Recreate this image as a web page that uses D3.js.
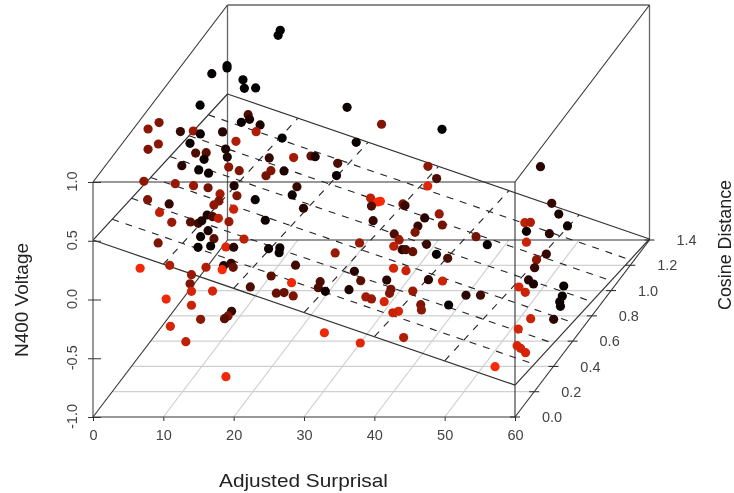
<!DOCTYPE html>
<html><head><meta charset="utf-8">
<script src="https://cdn.jsdelivr.net/npm/d3@7"></script>
<style>html,body{margin:0;padding:0;background:#fff}svg{display:block;filter:blur(0.45px)}text{font-family:"Liberation Sans",Arial,sans-serif}</style>
</head><body><svg id="c" width="734" height="493"></svg>
<script>
const surprisal = [
7.5,7.2,1.3,1.3,0.5,2.2,2.4,4.0,0.2,17.0,
1.2,1.0,1.5,0.6,1.6,3.4,4.3,4.5,4.7,6.0,
6.8,10.5,18.3,1.1,1.0,1.5,5.3,5.2,2.3,3.8,
6.8,3.5,11.4,13.5,14.6,15.2,18.4,1.7,7.0,8.5,
4.1,5.5,13.0,13.5,12.3,19.6,0.4,3.5,6.1,6.8,
10.5,16.7,8.5,10.9,17.4,13.5,2.3,4.0,9.7,9.0,
11.8,4.0,19.0,25.8,26.8,27.2,
27.3,28.9,9.4,10.2,11.0,12.5,16.3,7.1,8.4,9.5,10.0,10.9,13.1,11.2,7.9,12.2,14.0,16.0,14.8,15.9,19.5,21.1,29.7,
21.0,27.6,10.9,6.7,14.7,17.2,16.9,17.2,17.0,24.7,14.0,22.6,31.7,32.6,13.8,25.5,28.2,21.0,29.3,30.3,32.3,14.0,17.0,24.7,25.8,27.1,34.7,35.5,10.4,14.0,19.7,19.2,18.7,15.3,11.0,32.9,13.2,38.0,18.9,
21.9,30.5,44.5,28.5,31.1,31.2,46.1,47.1,49.7,30.4,30.7,34.2,33.5,33.9,36.0,33.5,45.0,45.8,46.6,48.5,31.9,32.6,40.8,36.5,42.4,46.6,33.2,34.4,34.9,35.9,37.9,39.5,50.8,49.4,50.5,35.9,36.3,36.3,39.5,41.5,51.0,51.7,51.0,51.9,56.0,55.8,56.8,56.9,36.9,36.7,40.0,46.2,46.9,37.3,42.5,42.6,45.1,40.7,39.9,55.4,57.3,55.0,42.8,56.2,56.7,57.4,55.8];
const cosine = [
1.4,1.4,1.3,1.3,1.2,1.4,1.4,1.4,1.1,1.4,
.6,.5,.8,1.0,1.0,1.1,1.3,1.3,1.2,1.3,
1.2,1.2,1.4,.6,.5,.9,1.1,1.0,.9,.9,
.9,.9,1.0,1.1,1.2,1.2,1.2,.8,.9,.9,
.8,.8,.9,1.0,.9,1.1,.5,.6,.6,.7,
.7,.9,.7,.7,.8,.7,.4,.5,.6,.6,
.6,.4,.8,1.0,1.0,1.0,
.9,.8,.5,.5,.5,.5,.6,.3,.4,.4,.4,.4,.3,.3,.1,.2,.2,.4,.3,.3,.4,.4,.6,
.4,.5,0,0,.1,.1,.2,.2,.1,.3,0,.2,.4,.4,0,.2,.3,.1,.2,.2,.3,0,0,.1,.1,.1,.3,.3,0,0,0,0,0,0,0,0,0,0,0,
1.4,1.4,1.4,1.4,1.3,1.2,1.4,1.4,1.3,1.0,1.0,1.1,1.0,.9,1.0,.9,1.2,1.2,1.1,1.2,.8,.8,1.0,.8,1.0,1.1,.7,.7,.7,.7,.8,.8,1.0,1.0,.9,.5,.6,.4,.6,.6,.8,.8,.7,.7,.8,.8,.7,.7,.4,.4,.4,.5,.6,.3,.3,.3,.4,.2,.2,.5,.6,.4,.1,.3,.3,.3,.1];
const voltage = [
.785,.742,.591,.572,.631,.364,.291,.294,.47,.129,
.86,.913,.568,.358,.333,.243,.174,.135,.217,.087,
.137,.083,-.169,.678,.74,.361,.163,.205,.278,.281,
.244,.225,.129,.024,-.07,-.076,-.132,.278,.159,.128,
.242,.214,.128,.018,.085,-.129,.468,.34,.323,.198,
.215,-.009,.145,.13,.029,.096,.419,.275,.193,.159,
.123,.311,-.084,-.212,-.246,-.24,
-.173,-.19,.181,.167,.153,.124,.029,.334,.229,.218,.24,.155,.195,.212,.374,.229,.24,.084,.124,.122,.002,.01,-.164,
-.032,-.142,.291,.266,.167,.18,.093,.059,.146,-.031,.211,-.015,-.191,-.271,.134,-.072,-.171,-.001,-.115,-.146,-.239,.07,.072,-.054,-.049,-.077,-.301,-.318,.004,-.049,-.1,-.14,-.163,-.169,-.228,-.283,-.359,-.37,-.657,
-.015,-.058,-.376,-.373,-.37,-.325,-.688,-.779,-.773,-.263,-.277,-.455,-.382,-.343,-.442,-.397,-.637,-.634,-.603,-.731,-.303,-.354,-.541,-.391,-.609,-.696,-.3,-.329,-.329,-.346,-.476,-.51,-.689,-.737,-.698,-.272,-.4,-.265,-.477,-.488,-.694,-.729,-.647,-.692,-.746,-.831,-.772,-.811,-.344,-.378,-.358,-.502,-.609,-.341,-.367,-.412,-.477,-.316,-.328,-.701,-.814,-.682,-.432,-.716,-.738,-.775,-.679];
const redness = [
0,0,0,0,0,0,0,0,0,.05,
.5,.55,.2,.6,.02,.15,.3,.1,.03,.1,
.7,0,.03,.55,.5,.02,.7,.1,.3,.35,
.1,.03,.2,.65,.4,.1,.3,.15,.55,.5,
.03,.03,.5,.1,.45,.03,.55,.6,.6,.45,
.1,.2,.65,.5,.05,.02,.5,.2,.5,.55,
.8,.75,.15,.75,1,1,
.3,.2,.1,.3,.75,.6,.05,.6,.35,.25,.1,.1,.35,.03,.5,.02,.03,.75,.9,.15,.05,.05,.6,
.03,.6,.7,.95,.7,.1,.2,.4,1,.25,.6,.35,.15,.35,.5,.95,.3,.3,.3,.05,.1,.85,.85,.4,.4,.5,.65,.6,.95,.8,.2,.5,.35,.55,.85,.95,.75,.9,.95,
.5,0,.15,.55,.3,.9,.2,.1,.03,.5,.2,.6,.15,.2,.45,.5,.75,.7,.03,.15,.3,.6,.45,.2,0,.8,.75,.15,.3,.4,0,.3,.2,.55,.2,.85,.8,.15,.15,.8,.15,.1,.85,.8,.02,.02,.02,.03,.45,.5,.6,.15,.25,.85,.5,.55,.02,.85,.8,.8,.15,.85,.7,.85,.85,.85,1];

const xTicks = [0,10,20,30,40,50,60];
const yTicks = [0,0.2,0.4,0.6,0.8,1.0,1.2,1.4];
const zTicks = [-1,-0.5,0,0.5,1];
const planeCoef = {a:0.506,b:-0.02057,c:-0.188};
const xLabel = "Adjusted Surprisal", yLabel = "Cosine Distance", zLabel = "N400 Voltage";

const svg = d3.select("#c");
const sx = d3.scaleLinear().domain([0,60]).range([93,515]);
const sz = d3.scaleLinear().domain([-1,1]).range([417,182]);
const depthX = d3.scaleLinear().domain([0,1.4]).range([0,134.5]);
const depthY = d3.scaleLinear().domain([0,1.4]).range([0,-177]);
const color = d3.scaleLinear().domain([0,1]).range(["#040000","#fa2a08"]);
const px = (x,y)=>sx(x)+depthX(y);
const py = (y,z)=>sz(z)+depthY(y);
const P = (x,y,z)=>[px(x,y),py(y,z)];
const plane = (x,y)=>planeCoef.a+planeCoef.b*x+planeCoef.c*y;
const fmt1 = v=>d3.format(".1f")(v).replace("\u2212","-");
const seg = (g,a,b,st)=>g.append("line").attr("x1",a[0]).attr("y1",a[1]).attr("x2",b[0]).attr("y2",b[1])
  .attr("stroke",st.c).attr("stroke-width",st.w).attr("stroke-dasharray",st.d||null);

// grey floor grid
const grid = svg.append("g");
const gs = {c:"#cfcfcf",w:1.2};
yTicks.slice(1,-1).forEach(y=>seg(grid,P(0,y,-1),P(60,y,-1),gs));
xTicks.slice(1,-1).forEach(x=>seg(grid,P(x,0,-1),P(x,1.4,-1),gs));

// back box
const back = svg.append("g");
const bs = {c:"#666",w:1.3};
seg(back,P(0,1.4,1),P(60,1.4,1),bs);
seg(back,P(0,1.4,-1),P(0,1.4,1),bs);
seg(back,P(60,1.4,-1),P(60,1.4,1),bs);
seg(back,P(0,1.4,-1),P(60,1.4,-1),{c:"#333",w:1.1});

// regression plane
const pg = svg.append("g");
const ds = {c:"#222",w:1.1,d:"7,7"};
yTicks.slice(1,-1).forEach(y=>seg(pg,P(0,y,plane(0,y)),P(60,y,plane(60,y)),ds));
xTicks.slice(1,-1).forEach(x=>seg(pg,P(x,0,plane(x,0)),P(x,1.4,plane(x,1.4)),ds));
const ps = {c:"#333",w:1.2};
[[0,0,60,0],[0,1.4,60,1.4],[0,0,0,1.4],[60,0,60,1.4]].forEach(e=>
  seg(pg,P(e[0],e[1],plane(e[0],e[1])),P(e[2],e[3],plane(e[2],e[3])),ps));

// front box and floor edges
const front = svg.append("g");
const fs = {c:"#333",w:1.1};
seg(front,P(0,0,1),P(60,0,1),fs);
seg(front,P(0,0,-1),P(0,0,1),{c:"#555",w:1.2});
seg(front,P(60,0,-1),P(60,0,1),fs);
seg(front,P(0,0,-1),P(60,0,-1),fs);
seg(front,P(0,0,1),P(0,1.4,1),fs);
seg(front,P(60,0,1),P(60,1.4,1),fs);
seg(front,P(0,0,-1),P(0,1.4,-1),fs);
seg(front,P(60,0,-1),P(60,1.4,-1),fs);

// axes
const tickFill = "#444";
const xAxis = svg.append("g").attr("transform","translate(0,417)")
  .call(d3.axisBottom(sx).tickValues(xTicks).tickFormat(d3.format("d")).tickSize(4).tickPadding(9));
xAxis.select(".domain").remove();
xAxis.selectAll("line").attr("stroke","#333");
xAxis.selectAll("text").attr("font-size",14.5).attr("fill",tickFill).style("font-family",'"Liberation Sans"');

const zAxis = svg.append("g").attr("transform","translate(93,0)")
  .call(d3.axisLeft(sz).tickValues(zTicks).tickFormat(fmt1).tickSize(5));
zAxis.select(".domain").remove();
zAxis.selectAll("line").attr("stroke","#333").attr("x2",8).attr("x1",-5);
zAxis.selectAll("text").attr("font-size",14.5).attr("fill",tickFill).style("font-family",'"Liberation Sans"')
  .attr("text-anchor","middle").attr("x",null)
  .attr("transform","translate(-21,-1) rotate(-90)").attr("dy","0.35em");

const yAxis = svg.append("g");
yTicks.forEach(y=>{
  const p=P(60,y,-1);
  seg(yAxis,[p[0]-5,p[1]],[p[0]+5,p[1]],{c:"#333",w:1.1});
  yAxis.append("text").attr("x",p[0]+37).attr("y",p[1]).attr("dy","0.35em").attr("text-anchor","middle")
    .attr("font-size",14.5).attr("fill",tickFill).text(fmt1(y));
});

// titles
svg.append("text").attr("x",303.5).attr("y",487).attr("text-anchor","middle").attr("font-size",18.5)
  .attr("textLength",169).attr("lengthAdjust","spacingAndGlyphs").attr("fill","#222").text(xLabel);
svg.append("text").attr("transform","translate(27.5,300) rotate(-90)").attr("text-anchor","middle").attr("font-size",18.5)
  .attr("textLength",114).attr("lengthAdjust","spacingAndGlyphs").attr("fill","#222").text(zLabel);
svg.append("text").attr("transform","translate(731,245) rotate(-90)").attr("text-anchor","middle").attr("font-size",18)
  .attr("textLength",130).attr("lengthAdjust","spacingAndGlyphs").attr("fill","#222").text(yLabel);

// points
svg.append("g").selectAll("circle").data(surprisal.map((d,i)=>i)).join("circle")
  .attr("cx",i=>px(surprisal[i],cosine[i]))
  .attr("cy",i=>py(cosine[i],voltage[i]))
  .attr("r",4.6)
  .attr("fill",i=>color(redness[i]));
</script></body></html>
